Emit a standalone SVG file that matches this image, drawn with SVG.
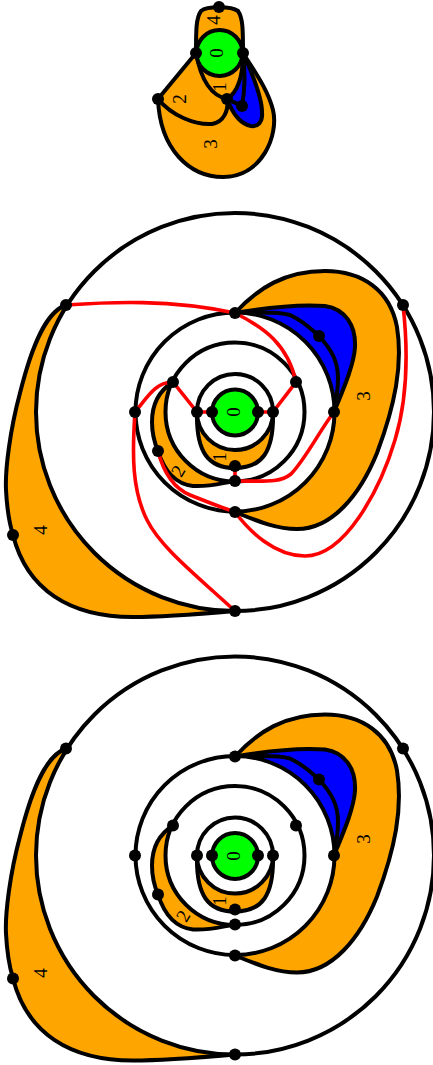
<svg xmlns="http://www.w3.org/2000/svg" width="433" height="1065" viewBox="0 0 433 1065">
<style>
.o{fill:#ffa500}.w{fill:#fff}.g{fill:#0f0}.b{fill:#00f}
.s{stroke:#000;stroke-width:4;stroke-linejoin:round;stroke-linecap:round}
.l{fill:none;stroke:#000;stroke-width:4;stroke-linecap:round}
.r{fill:none;stroke:#f00;stroke-width:3.6;stroke-linecap:round}
.d{fill:#000}
text{font-family:"Liberation Serif",serif;font-size:19px;fill:#000;text-anchor:middle;dominant-baseline:central}
</style>
<defs>
<g id="regions">
<path class="o s" d="M66,305C46,312 32,345 20,393C10,430 5,470 6,490C7,510 9,522 13,535C27,590 70,617 133,617C165,617 200,614 235,611Z"/>
<circle class="w s" cx="235" cy="412" r="199"/>
<path class="o s" d="M235,313C258,288 285,271 325,271C362,271 390,290 397,327C403,365 395,405 377,453C360,495 332,529 297,529C275,529 255,520 235,512Z"/>
<path class="b s" d="M235,313C270,307 300,304 325,306C345,309 356,325 355,347C354,365 343,390 334,412Z"/>
<path class="l" d="M235,313C255,313 275,311 290,315C305,322 312,330 319,336C332,350 338,362 338,378C338,390 336,402 334,412"/>
<circle class="w s" cx="235" cy="412" r="99.5"/>
<path class="o s" d="M173,382C157,392 152,408 152,422C152,435 155,444 158,451C164,470 175,484 193,486C210,487 222,483 235,481Z"/>
<circle class="w s" cx="235" cy="412" r="69.5"/>
<path class="o s" d="M197,412C196,452 208,468 235,468C262,468 274,452 273,412Z"/>
<circle class="w s" cx="235" cy="412" r="38"/>
<circle class="g s" cx="235" cy="412.500" r="23"/>
</g>
<g id="dots">
<circle cx="66" cy="305" r="6"/><circle cx="403" cy="305" r="6"/><circle cx="13" cy="535" r="6"/>
<circle cx="235" cy="611" r="6"/><circle cx="235" cy="313" r="6"/><circle cx="135" cy="412" r="6"/>
<circle cx="334" cy="412" r="6"/><circle cx="235" cy="512" r="6"/><circle cx="235" cy="481" r="6"/>
<circle cx="235" cy="466" r="6"/><circle cx="173" cy="382" r="6"/><circle cx="296" cy="382" r="6"/>
<circle cx="158" cy="451" r="6"/><circle cx="197" cy="412" r="6"/><circle cx="273" cy="412" r="6"/>
<circle cx="212" cy="412" r="6"/><circle cx="258" cy="412" r="6"/><circle cx="319" cy="336" r="6"/>
</g>
</defs>
<g id="figure-top">
<path class="o s" d="M158,99L196,53C196,30 196,18 201,11C207,6 231,6 238,11C243,18 243,30 243,53C255,72 268,90 273,110C279,135 262,177 223,177C190,177 160,150 158,99Z"/>
<path class="l" d="M158,99C172,116 195,125 212,124C224,122 229,110 227,99"/>
<path class="b s" d="M243,53C253,75 262,97 262,112C263,122 258,127 251,126C240,124 232,112 227,99C238,92 243,75 243,53Z"/>
<path class="l" d="M196,53C200,75 208,95 227,99L242,106C245,90 245,70 243,53"/>
<circle class="g s" cx="219.500" cy="53" r="23"/>
<g id="top-label-0"><text transform="translate(216,53) rotate(-90)">0</text></g>
<g id="top-label-1"><text transform="translate(219,87) rotate(-90)">1</text></g>
<g id="top-label-2"><text transform="translate(179,99) rotate(-90)">2</text></g>
<g id="top-label-3"><text transform="translate(210,144) rotate(-90)">3</text></g>
<g id="top-label-4"><text transform="translate(213,20) rotate(-90)">4</text></g>
<g id="top-nodes" class="d">
<circle id="t0" cx="219" cy="7" r="6"/><circle id="t1" cx="196" cy="53" r="6"/><circle id="t2" cx="243" cy="53" r="6"/>
<circle id="t3" cx="158" cy="99" r="6"/><circle id="t4" cx="227" cy="99" r="6"/><circle id="t5" cx="242" cy="106" r="6"/>
</g>
</g>
<g id="figure-middle">
<use href="#regions"/>
<g id="connectors">
<path class="r" d="M66,305C110,302 170,299 235,313"/>
<path class="r" d="M235,313C265,328 288,345 296,382L273,412L258,412"/>
<path class="r" d="M212,412L197,412L173,382C155,382 147,398 135,412"/>
<path class="r" d="M135,412C132,455 132,490 147,520C160,546 190,570 235,611"/>
<path class="r" d="M158,451C165,478 178,490 190,495C205,501 220,507 235,512"/>
<path class="r" d="M235,466L235,481C265,481 280,483 291,474C305,460 320,430 334,412"/>
<path class="r" d="M235,512C250,532 275,556 305,556C345,556 380,490 395,440C410,390 407,340 403,305"/>
</g>
<use href="#dots" class="d"/>
<g id="mid-label-0"><text transform="translate(233,412) rotate(-90)">0</text></g>
<g id="mid-label-1"><text transform="translate(219,457) rotate(-90)">1</text></g>
<g id="mid-label-2"><text transform="translate(178,471) rotate(-60)">2</text></g>
<g id="mid-label-3"><text transform="translate(363,396) rotate(-90)">3</text></g>
<g id="mid-label-4"><text transform="translate(40,530) rotate(-90)">4</text></g>
</g>
<g id="figure-bottom">
<use href="#regions" transform="translate(0,443.500)"/>
<use href="#dots" class="d" transform="translate(0,443.500)"/>
<g id="bot-label-0"><text transform="translate(233,856) rotate(-90)">0</text></g>
<g id="bot-label-1"><text transform="translate(219,901) rotate(-90)">1</text></g>
<g id="bot-label-2"><text transform="translate(183,916) rotate(-60)">2</text></g>
<g id="bot-label-3"><text transform="translate(363,839) rotate(-90)">3</text></g>
<g id="bot-label-4"><text transform="translate(40,973) rotate(-90)">4</text></g>
</g>
</svg>
